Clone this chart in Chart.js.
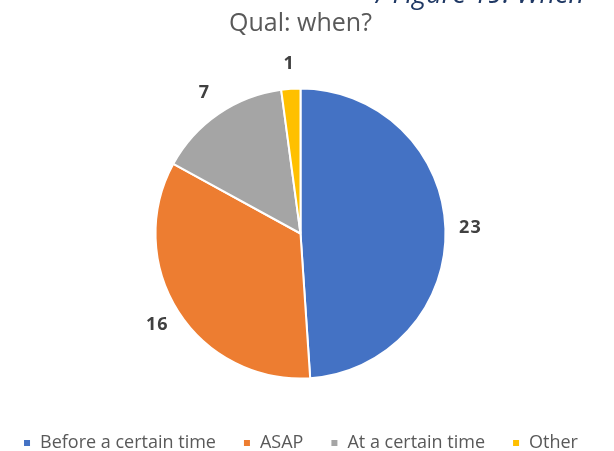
<!DOCTYPE html>
<html>
<head>
<meta charset="utf-8">
<script src="https://cdn.jsdelivr.net/npm/chart.js@4.4.0/dist/chart.umd.min.js"></script>
<style>
  html, body { margin: 0; padding: 0; background: #ffffff; overflow: hidden; }
  #wrap { position: relative; width: 614px; height: 451px; overflow: hidden; }
  #c { position: absolute; left: -6px; top: 0; }
  #caption {
    position: absolute; top: -21px; left: 376px; white-space: nowrap;
    font-family: "Open Sans", sans-serif; font-style: italic; font-size: 27px;
    line-height: 27px; color: #1F3864;
  }
</style>
</head>
<body>
<div id="wrap">
  <canvas id="c" width="620" height="451"></canvas>
  <div id="caption">/ Figure 19: When</div>
</div>
<script>
const categories = ["Before a certain time", "ASAP", "At a certain time", "Other"];
const counts = [23, 16, 7, 1];
const sliceColors = ["#4472C4", "#ED7D31", "#A5A5A5", "#FFC000"];

// Writes each slice's count just outside the rim, on the slice's bisector.
const outsideLabels = {
  id: "outsideLabels",
  afterDatasetsDraw(chart) {
    const ctx = chart.ctx;
    const meta = chart.getDatasetMeta(0);
    ctx.save();
    ctx.font = "bold 18px 'Open Sans', sans-serif";
    ctx.letterSpacing = "1px";
    ctx.fillStyle = "#404040";
    ctx.textAlign = "center";
    ctx.textBaseline = "middle";
    meta.data.forEach((arc, i) => {
      const p = arc.getProps(["x", "y", "startAngle", "endAngle", "outerRadius"], true);
      const mid = (p.startAngle + p.endAngle) / 2;
      const r = p.outerRadius + 25;
      ctx.fillText(String(chart.data.datasets[0].data[i]), p.x + Math.cos(mid) * r, p.y + Math.sin(mid) * r);
    });
    ctx.restore();
  }
};

new Chart(document.getElementById("c"), {
  type: "pie",
  data: {
    labels: categories,
    datasets: [{
      data: counts,
      backgroundColor: sliceColors,
      borderColor: "#ffffff",
      borderWidth: 2,
      radius: 145
    }]
  },
  options: {
    responsive: false,
    animation: false,
    layout: { padding: { left: 0, right: 7, top: 0, bottom: -11 } },
    plugins: {
      title: {
        display: true,
        text: "Qual: when?",
        color: "#595959",
        font: { family: "'Open Sans', sans-serif", size: 25, weight: "normal" },
        padding: { top: 9, bottom: 21 }
      },
      legend: {
        position: "bottom",
        labels: {
          color: "#595959",
          font: { family: "'Open Sans', sans-serif", size: 18 },
          usePointStyle: true,
          pointStyle: "rect",
          boxWidth: 8,
          boxHeight: 8,
          padding: 27
        }
      },
      tooltip: { enabled: false }
    }
  },
  plugins: [outsideLabels]
});
</script>
</body>
</html>
